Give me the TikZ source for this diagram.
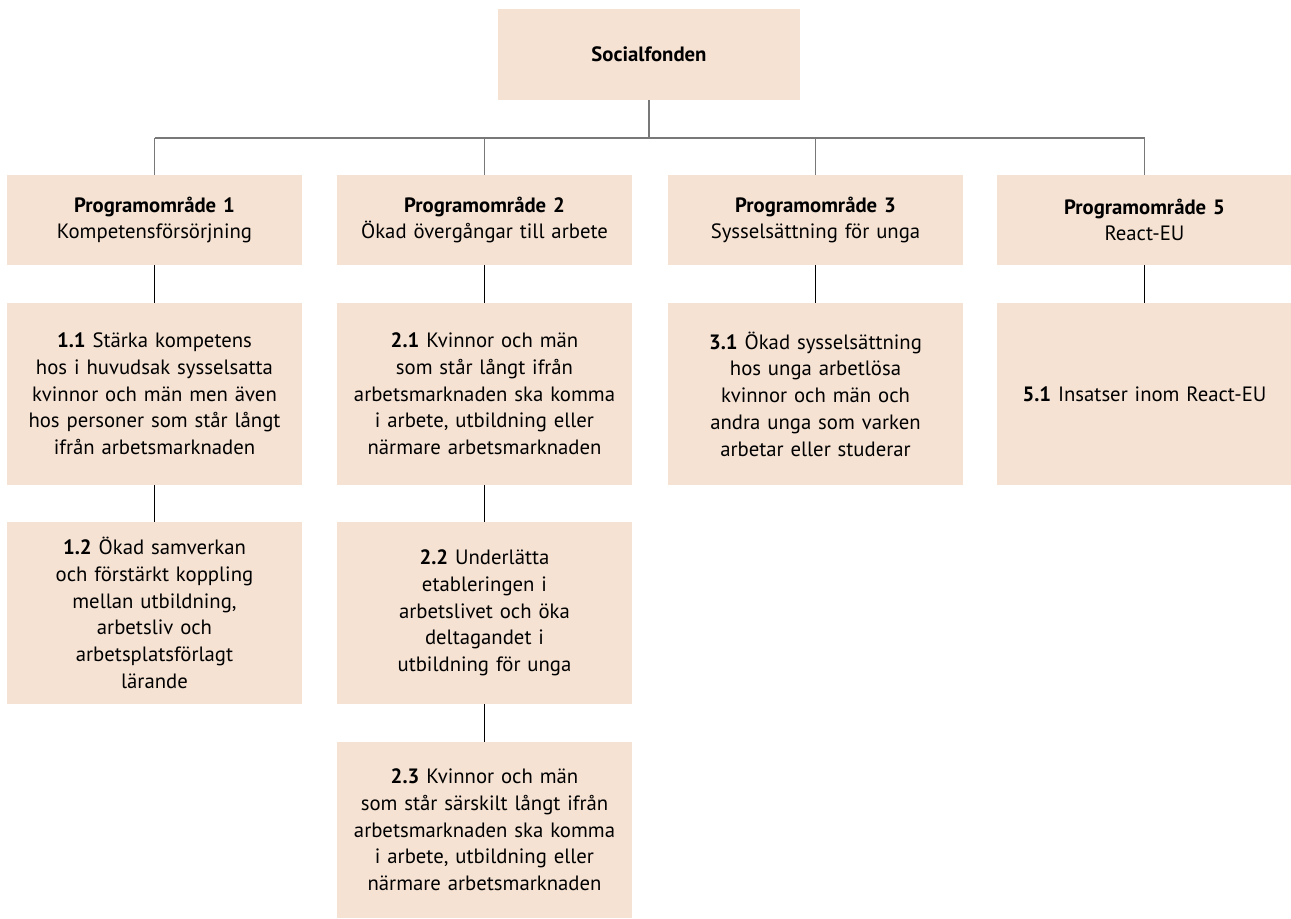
\documentclass[tikz,border=0pt]{standalone}
\usepackage{fontspec}
\setmainfont{PT Sans}
\usetikzlibrary{positioning}

\definecolor{boxfill}{RGB}{245,226,211}
\definecolor{busgray}{RGB}{120,120,120}

\tikzset{
  fondbox/.style={fill=boxfill, draw=none, align=center, inner sep=2pt,
    font=\fontsize{11.8}{15.2}\selectfont, text width=5.7cm},
  headbox/.style={fondbox, minimum width=5.9cm, minimum height=1.8cm},
  goalbox/.style={fondbox, minimum width=5.9cm, minimum height=3.64cm},
  link/.style={draw=black, line width=0.6pt},
  buslink/.style={draw=busgray, line width=0.6pt}
}

\begin{document}
\begin{tikzpicture}[x=0.02cm, y=-0.02cm]
\useasboundingbox (0,0) rectangle (1291,919);

% top
\node[fondbox, minimum width=6.04cm, minimum height=1.82cm] (fond) at (649,54.5) {\textbf{Socialfonden}};
\coordinate (bus) at (649,138);

% programomraden
\node[headbox] (p1) at (154.5,220) {\textbf{Programområde 1}\\Kompetensförsörjning};
\node[headbox] (p2) at (484.5,220) {\textbf{Programområde 2}\\Ökad övergångar till arbete};
\node[headbox] (p3) at (815.5,220) {\textbf{Programområde 3}\\Sysselsättning för unga};
\node[headbox] (p5) at (1144.5,220) {\textbf{Programområde 5}\\React-EU};

% specifika mal
\node[goalbox] (m11) at (154.5,394) {\textbf{1.1} Stärka kompetens\\hos i huvudsak sysselsatta\\kvinnor och män men även\\hos personer som står långt\\ifrån arbetsmarknaden};
\node[goalbox] (m12) at (154.5,613) {\textbf{1.2} Ökad samverkan\\och förstärkt koppling\\mellan utbildning,\\arbetsliv och\\arbetsplatsförlagt\\lärande};
\node[goalbox] (m21) at (484.5,394) {\textbf{2.1} Kvinnor och män\\som står långt ifrån\\arbetsmarknaden ska komma\\i arbete, utbildning eller\\närmare arbetsmarknaden};
\node[goalbox] (m22) at (484.5,613) {\textbf{2.2} Underlätta\\etableringen i\\arbetslivet och öka\\deltagandet i\\utbildning för unga};
\node[goalbox, minimum height=3.52cm] (m23) at (484.5,830) {\textbf{2.3} Kvinnor och män\\som står särskilt långt ifrån\\arbetsmarknaden ska komma\\i arbete, utbildning eller\\närmare arbetsmarknaden};
\node[goalbox] (m31) at (815.5,394) {\textbf{3.1} Ökad sysselsättning\\hos unga arbetlösa\\kvinnor och män och\\andra unga som varken\\arbetar eller studerar};
\node[goalbox] (m51) at (1144.5,394) {\textbf{5.1} Insatser inom React-EU};

% linjer
\draw[buslink] (fond.south) -- (bus);
\draw[buslink] (p1.north |- bus) -- (p5.north |- bus);
\foreach \p in {p1,p2,p3,p5}{
  \draw[buslink] (\p.north |- bus) -- (\p.north);
}
\draw[link] (p1) -- (m11);
\draw[link] (m11) -- (m12);
\draw[link] (p2) -- (m21);
\draw[link] (m21) -- (m22);
\draw[link] (m22) -- (m23);
\draw[link] (p3) -- (m31);
\draw[link] (p5) -- (m51);
\end{tikzpicture}
\end{document}
